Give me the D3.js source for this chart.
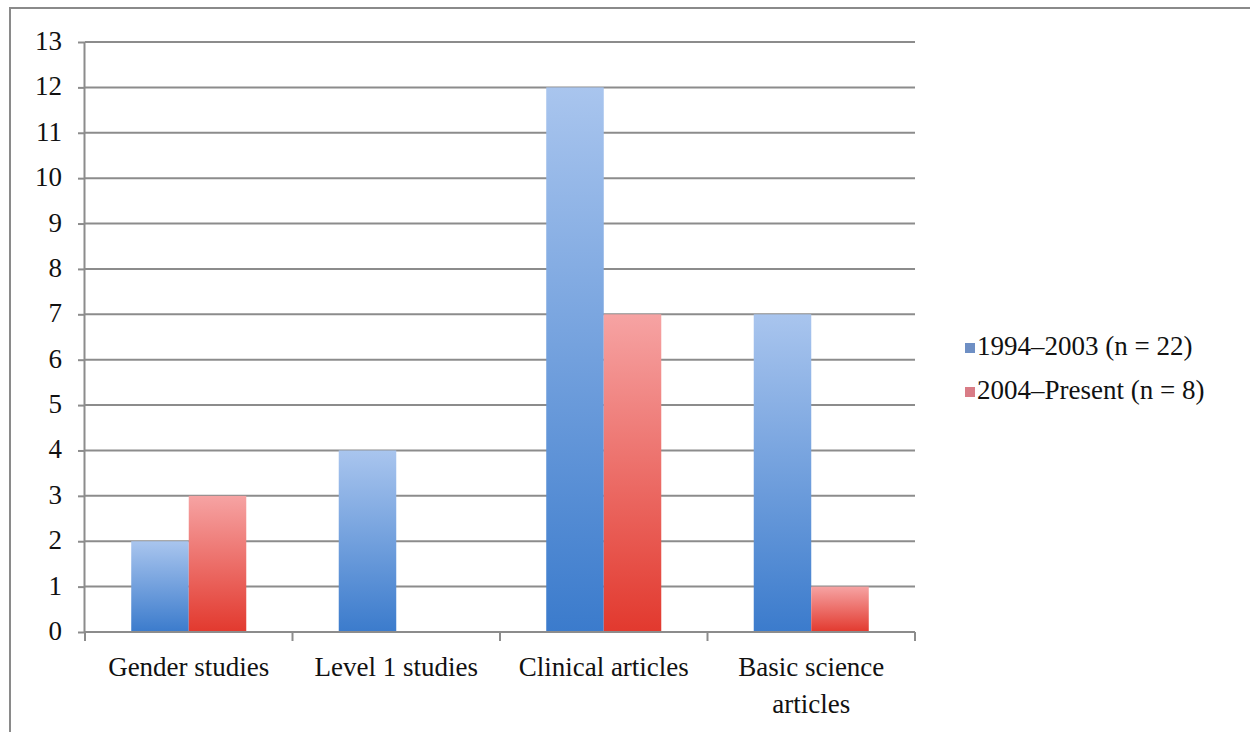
<!DOCTYPE html>
<html><head><meta charset="utf-8">
<script src="https://cdn.jsdelivr.net/npm/d3@7"></script>
<style>
body{margin:0;background:#fff}
#wrap{position:relative;width:1250px;height:732px;overflow:hidden}
#wrap svg{position:absolute;left:0;top:0;display:block}
.lbl{position:absolute;font-family:"Liberation Serif","Times New Roman",serif;color:#111;line-height:1;white-space:nowrap}
</style>
</head><body><div id="wrap"><svg id="c" width="1250" height="732"></svg></div>
<script>
const categories = ["Gender studies","Level 1 studies","Clinical articles","Basic science articles"];
const categoryLines = [["Gender studies"],["Level 1 studies"],["Clinical articles"],["Basic science","articles"]];
const seriesNames = ["1994–2003 (n = 22)","2004–Present (n = 8)"];
const series1 = [2,4,12,7];
const series2 = [3,0,7,1];
const yTicks = [0,1,2,3,4,5,6,7,8,9,10,11,12,13];

const FS = 27;
const ASC = 0.8375*FS; // baseline offset from top of a line-height:1 box
const wrap = d3.select("#wrap");
const svg = d3.select("#c");
const defs = svg.append("defs");
function grad(id, c0, c1){
  const g = defs.append("linearGradient").attr("id",id).attr("x1",0).attr("y1",0).attr("x2",0).attr("y2",1);
  g.append("stop").attr("offset","0%").attr("stop-color",c0);
  g.append("stop").attr("offset","100%").attr("stop-color",c1);
}
grad("gBlue","#a9c5ee","#3b7bcc");
grad("gRed","#f6a3a3","#e2392e");
const fills = ["url(#gBlue)","url(#gRed)"];
const legendFills = ["#6e8fc4","#d97c86"];

// frame
svg.append("path").attr("d","M10,740V8H1250")
  .attr("fill","none").attr("stroke","#8a8a8a").attr("stroke-width",2);

const pL=85,pR=915,pT=42,pB=632;
const x0 = d3.scaleBand().domain(categories).range([pL,pR]).padding(0);
const x1 = d3.scaleBand().domain([0,1]).range([0,x0.bandwidth()]).paddingInner(0).paddingOuter(0.804);
const y = d3.scaleLinear().domain([0,13]).range([pB,pT]);

// gridlines
svg.append("g").selectAll("line").data(yTicks.filter(d=>d>0)).join("line")
  .attr("x1",pL).attr("x2",pR).attr("y1",d=>y(d)).attr("y2",d=>y(d))
  .attr("stroke","#8c8c8c").attr("stroke-width",2);

// bars
const data = categories.map((c,i)=>({c, v:[series1[i],series2[i]]}));
const groups = svg.append("g").selectAll("g").data(data).join("g")
  .attr("transform",d=>`translate(${x0(d.c)},0)`);
groups.selectAll("rect").data(d=>d.v.map((v,k)=>({v,k}))).join("rect")
  .attr("x",d=>x1(d.k)).attr("width",x1.bandwidth())
  .attr("y",d=>y(d.v)).attr("height",d=>y(0)-y(d.v))
  .attr("fill",d=>fills[d.k]);

// y axis (ticks and line; labels drawn as HTML text below)
const ya = svg.append("g").attr("transform",`translate(${pL},0)`)
  .call(d3.axisLeft(y).tickValues(yTicks).tickSize(7).tickFormat(""));
ya.select(".domain").attr("stroke","#8c8c8c").attr("stroke-width",2).attr("d",`M-0.5,${pT}V${pB}`);
ya.selectAll(".tick line").attr("stroke","#8c8c8c").attr("stroke-width",2);
ya.selectAll(".tick text").remove();

// y tick labels
wrap.selectAll("div.ytick").data(yTicks).join("div")
  .attr("class","lbl ytick")
  .style("font-size",FS+"px")
  .style("right",(1250-62)+"px")
  .style("top",d=>(y(d)+0.32*FS-ASC)+"px")
  .style("text-align","right")
  .text(d=>d);

// x axis
svg.append("line").attr("x1",pL).attr("x2",pR).attr("y1",pB).attr("y2",pB)
  .attr("stroke","#8c8c8c").attr("stroke-width",2);
const bounds = categories.map(c=>x0(c)).concat([pR]);
svg.append("g").selectAll("line").data(bounds).join("line")
  .attr("x1",d=>d).attr("x2",d=>d).attr("y1",pB).attr("y2",pB+9)
  .attr("stroke","#8c8c8c").attr("stroke-width",2);

// category labels
categories.forEach((c,i)=>{
  const cx = x0(c)+x0.bandwidth()/2;
  categoryLines[i].forEach((ln,j)=>{
    wrap.append("div").attr("class","lbl")
      .style("font-size",FS+"px")
      .style("left",(cx-110)+"px").style("width","220px").style("text-align","center")
      .style("top",(677+j*37-ASC)+"px")
      .text(ln);
  });
});

// legend
seriesNames.forEach((s,i)=>{
  const ly = 356 + i*44;
  svg.append("rect").attr("x",965).attr("y",ly-13).attr("width",10).attr("height",10).attr("fill",legendFills[i]);
  wrap.append("div").attr("class","lbl")
    .style("font-size",FS+"px")
    .style("left","977px").style("top",(ly-ASC)+"px")
    .text(s);
});
</script></body></html>
